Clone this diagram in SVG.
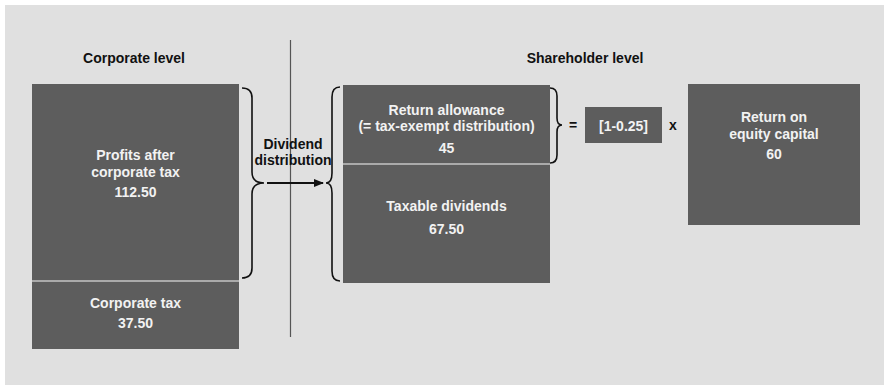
<svg xmlns="http://www.w3.org/2000/svg" width="884" height="385" viewBox="0 0 884 385">
<style>
.box{fill:#5d5d5d}
.wt{fill:#f2f2f2;font-family:"Liberation Sans",Arial,sans-serif;font-weight:bold;font-size:14px;text-anchor:middle}
.bt{fill:#111;font-family:"Liberation Sans",Arial,sans-serif;font-weight:bold;font-size:14px;text-anchor:middle}
.br{fill:none;stroke:#111;stroke-width:1.6}
.sep{stroke:#c4c4c4;stroke-width:1.5}
</style>
<defs>
<marker id="ah" markerWidth="10" markerHeight="8" refX="9" refY="4" orient="auto" markerUnits="userSpaceOnUse">
<path d="M0,0 L10,4 L0,8 Z" fill="#111"/>
</marker>
</defs>
<rect x="0" y="0" width="884" height="385" fill="#ffffff"/>
<rect x="5" y="5" width="879" height="380" fill="#e0e0e0"/>
<line x1="290.5" y1="40" x2="290.5" y2="337" stroke="#555" stroke-width="1.2"/>
<text class="bt" x="134" y="63">Corporate level</text>
<text class="bt" x="585" y="63">Shareholder level</text>
<g id="profits">
<rect class="box" x="32" y="84" width="207" height="197"/>
<text class="wt" x="135.5" y="160">Profits after</text>
<text class="wt" x="135.5" y="177">corporate tax</text>
<text class="wt" x="135.5" y="197">112.50</text>
</g>
<g id="corptax">
<rect class="box" x="32" y="281" width="207" height="68"/>
<line class="sep" x1="32" y1="281" x2="239" y2="281"/>
<text class="wt" x="135.5" y="308">Corporate tax</text>
<text class="wt" x="135.5" y="328">37.50</text>
</g>
<g id="allowance">
<rect class="box" x="343" y="85" width="207" height="79"/>
<text class="wt" x="446.5" y="115">Return allowance</text>
<text class="wt" x="446.5" y="131">(= tax-exempt distribution)</text>
<text class="wt" x="446.5" y="153">45</text>
</g>
<g id="taxable">
<rect class="box" x="343" y="164" width="207" height="119"/>
<line class="sep" x1="343" y1="164" x2="550" y2="164"/>
<text class="wt" x="446.5" y="211">Taxable dividends</text>
<text class="wt" x="446.5" y="234">67.50</text>
</g>
<g id="factor">
<rect class="box" x="585" y="107" width="77" height="36"/>
<text class="wt" x="623.5" y="131">[1-0.25]</text>
</g>
<g id="equity">
<rect class="box" x="688" y="84" width="172" height="141"/>
<text class="wt" x="774" y="122">Return on</text>
<text class="wt" x="774" y="139">equity capital</text>
<text class="wt" x="774" y="159">60</text>
</g>
<g id="labels">
<text class="bt" x="293" y="149">Dividend</text>
<text class="bt" x="293" y="165">distribution</text>
<text class="bt" x="573" y="130">=</text>
<text class="bt" x="673" y="130">x</text>
</g>
<g id="connectors">
<path class="br" d="M242,88 Q252,88 252,98 L252,172 Q252,183 264,183 Q252,183 252,194 L252,268 Q252,278 242,278"/>
<path class="br" d="M340,87 Q332,87 332,97 L332,173 Q332,183 326,183 Q332,183 332,193 L332,271 Q332,281 340,281"/>
<path class="br" d="M550,88 Q557,88 557,96 L557,118 Q557,125 562,125 Q557,125 557,132 L557,155 Q557,163 550,163"/>
<line x1="267" y1="183" x2="323" y2="183" stroke="#111" stroke-width="1.8" marker-end="url(#ah)"/>
</g>
</svg>
